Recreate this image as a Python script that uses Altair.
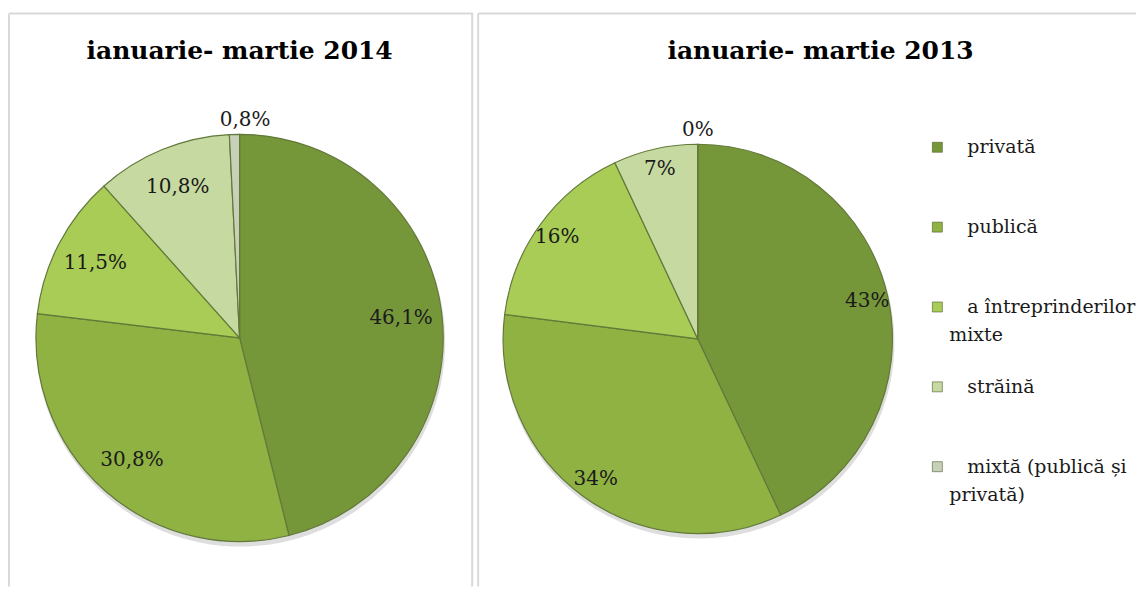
import textwrap
import altair as alt
import pandas as pd

# ---- data ----
categories = ["privată", "publică", "a întreprinderilor mixte", "străină", "mixtă (publică și privată)"]
values_2014 = [46.1, 30.8, 11.5, 10.8, 0.8]
values_2013 = [43, 34, 16, 7, 0]
titles = ["ianuarie- martie 2014", "ianuarie- martie 2013"]
colors = ["#76963a", "#8fb243", "#a8cc55", "#c5d9a0", "#c9d0ba"]


def fmt(v, decimals):
    s = f"{v:.{decimals}f}".replace(".", ",")
    return s + "%"


SERIF = "DejaVu Serif"
H = 575
BORDER = "#d9d9d9"
color_scale = alt.Scale(domain=categories, range=colors)


def borders(W, right=True):
    one = pd.DataFrame({"k": [0]})
    layers = [
        alt.Chart(one).mark_rule(color=BORDER, strokeWidth=2).encode(
            x=alt.value(1), x2=alt.value(W), y=alt.value(1)),
        alt.Chart(one).mark_rule(color=BORDER, strokeWidth=2).encode(
            x=alt.value(1), y=alt.value(1), y2=alt.value(H)),
    ]
    if right:
        layers.append(alt.Chart(one).mark_rule(color=BORDER, strokeWidth=2).encode(
            x=alt.value(W - 1), y=alt.value(1), y2=alt.value(H)))
    return layers


def pie_panel(values, decimals, title, W, cx, cy, R, tx, label_k, out_gap,
              legend=False, right_border=True):
    df = pd.DataFrame({
        "cat": categories,
        "value": values,
        "label": [fmt(v, decimals) for v in values],
        "order": list(range(len(categories))),
    })
    one = pd.DataFrame({"k": [0]})
    shadow = alt.Chart(one).mark_arc(
        theta=0, theta2=6.2832, outerRadius=R + 1, color="#dedede"
    ).encode(x=alt.value(cx + 1), y=alt.value(cy + 4))

    base = alt.Chart(df).encode(
        theta=alt.Theta("value:Q", stack=True),
        order=alt.Order("order:Q"),
    )
    arcs = base.mark_arc(outerRadius=R, stroke="#62793a", strokeWidth=1.2).encode(
        color=alt.Color("cat:N", scale=color_scale, legend=None),
        x=alt.value(cx), y=alt.value(cy),
    )
    labels = base.transform_calculate(
        lr=f"datum.value < 2 ? {R + out_gap} : {round(R * label_k)}"
    ).mark_text(font=SERIF, fontSize=20, color="#1a1a1a", baseline="middle").encode(
        text="label:N",
        radius=alt.Radius("lr:Q", scale=None),
        x=alt.value(cx), y=alt.value(cy),
    )
    ttl = alt.Chart(pd.DataFrame({"t": [title]})).mark_text(
        font=SERIF, fontSize=25, fontWeight="bold", color="#000000", baseline="middle"
    ).encode(text="t:N", x=alt.value(tx), y=alt.value(39))

    layers = borders(W, right_border) + [shadow, arcs, labels, ttl]

    if legend:
        rows = []
        for i, c in enumerate(categories):
            for j, line in enumerate(textwrap.wrap(c, 18)):
                rows.append({"cat": c, "text": line, "pos": i + 0.35 * j, "line": j})
        ldf = pd.DataFrame(rows)
        yscale = alt.Scale(domain=[0, 4], range=[135, 455])
        sq = alt.Chart(ldf).transform_filter("datum.line == 0").mark_square(
            size=100, opacity=1, stroke="#4d5e2c", strokeWidth=0.6
        ).encode(
            x=alt.value(461),
            y=alt.Y("pos:Q", scale=yscale, axis=None),
            color=alt.Color("cat:N", scale=color_scale, legend=None),
        )
        txt = alt.Chart(ldf).transform_calculate(
            lx="datum.line == 0 ? 491 : 473"
        ).mark_text(font=SERIF, fontSize=19, color="#1a1a1a", align="left", baseline="middle").encode(
            x=alt.X("lx:Q", scale=None, axis=None),
            y=alt.Y("pos:Q", scale=yscale, axis=None),
            text="text:N",
        )
        layers += [sq, txt]

    return alt.layer(*layers).properties(width=W, height=H)


left = pie_panel(values_2014, 1, titles[0], 466, 232, 326, 204, 232, 0.80, 14)
right = pie_panel(values_2013, 0, titles[1], 660, 221, 327, 195, 344, 0.89, 14,
                  legend=True, right_border=False)

chart = alt.hconcat(left, right, spacing=3).properties(
    padding={"top": 4, "left": 0, "right": 0, "bottom": 0}
).configure_view(stroke=None)

chart.save("out.html", embed_options={"renderer": "svg", "actions": False})
